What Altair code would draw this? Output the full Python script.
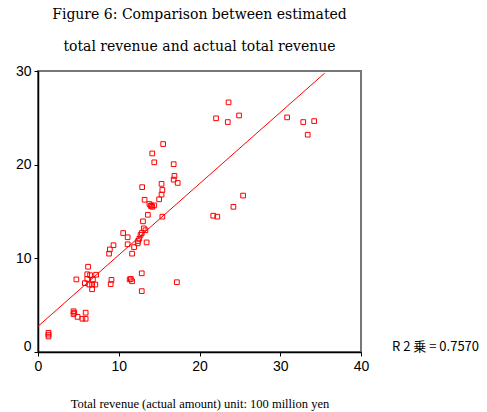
import altair as alt
import pandas as pd

# Actual total revenue (x) vs estimated total revenue (y), unit: 100 million yen
x_vals = [1.3, 1.3, 1.3, 4.4, 4.4, 4.5, 4.9, 5.5, 5.9, 5.9,
          4.75, 6.2, 6.1, 6.45, 7.2, 6.1, 6.8, 5.8, 6.35, 6.7,
          7.1, 6.7, 9.1, 9.0, 11.35, 11.65, 11.5, 12.85, 12.85, 17.2,
          8.8, 8.9, 9.35, 10.55, 11.1, 11.1, 11.65, 11.9, 12.35, 12.4,
          12.55, 12.7, 12.85, 13.1, 13.3, 13.45, 13.0, 13.6, 15.4, 13.2,
          13.8, 13.95, 14.05, 14.4, 15.0, 15.3, 15.4, 15.3, 12.9, 17.3,
          16.8, 16.9, 16.8, 14.4, 14.15, 15.5, 14.15,
          23.6, 22.05, 23.5, 24.9, 30.85, 32.85, 34.2, 33.4, 25.4, 24.2, 21.7, 22.2]
y_vals = [2.05, 1.85, 1.65, 4.35, 4.05, 4.2, 3.75, 3.55, 3.55, 4.2,
          7.75, 9.1, 8.3, 8.2, 8.25, 7.8, 7.75, 7.35, 7.2, 7.2,
          7.2, 6.7, 7.7, 7.25, 7.75, 7.55, 7.8, 8.4, 6.5, 7.45,
          10.5, 10.95, 11.4, 12.7, 12.25, 11.5, 10.5, 11.2, 11.6, 11.85,
          12.1, 12.5, 12.7, 13.2, 13.0, 11.7, 13.95, 14.65, 14.45, 16.25,
          15.8, 15.6, 15.65, 15.65, 16.3, 16.8, 17.3, 17.95, 17.6, 18.05,
          18.4, 18.8, 20.05, 20.25, 21.2, 22.2, 15.5,
          26.65, 24.95, 24.55, 25.25, 25.05, 24.55, 24.65, 23.2, 16.7, 15.5, 14.55, 14.45]

x_ticks = [0, 10, 20, 30, 40]
y_ticks = [0, 10, 20, 30]
title_lines = ["Figure 6: Comparison between estimated",
               "total revenue and actual total revenue"]
x_title = "Total revenue (actual amount) unit: 100 million yen"
r2_label = "R 2 乗 = 0.7570"
fit_extent = [0, 35.5]

df = pd.DataFrame({"x": x_vals, "y": y_vals})

x_enc = alt.X("x:Q",
              scale=alt.Scale(domain=[0, 40], nice=False, zero=True),
              axis=alt.Axis(values=x_ticks, title=x_title, format="d", labelFlush=False))
y_enc = alt.Y("y:Q",
              scale=alt.Scale(domain=[0, 30], nice=False, zero=True),
              axis=alt.Axis(values=y_ticks, title=None, format="d", labelFlush=False,
                            labelOffset={"condition": {"test": "datum.value == 0", "value": -6},
                                         "value": 0}))

points = alt.Chart(df).mark_point(shape="square", filled=False, size=22,
                                  color="#ff0000", strokeWidth=1, opacity=1).encode(x=x_enc, y=y_enc)

fit = alt.Chart(df).transform_regression("x", "y", extent=fit_extent).mark_line(
    color="#ff0000", strokeWidth=1).encode(x="x:Q", y="y:Q")

r2 = alt.Chart(pd.DataFrame({"t": [r2_label]})).mark_text(
    align="left", baseline="middle", font="Liberation Sans Narrow, Noto Sans CJK JP",
    fontSize=13, color="black").encode(text="t:N", x=alt.value(354), y=alt.value(276))

chart = alt.layer(fit, points, r2).properties(
    width=323, height=281,
    autosize=alt.AutoSizeParams(type="none"),
    padding={"left": 38, "top": 71, "right": 126, "bottom": 60},
    title=alt.TitleParams(text=title_lines, font="DejaVu Serif", fontSize=14,
                          fontWeight="normal", lineHeight=32.5, anchor="middle",
                          offset=10, color="black"),
).configure(background="white").configure_view(
    stroke="#777777", strokeWidth=2
).configure_axis(
    domainColor="black", domainWidth=1.5, tickColor="black", tickSize=4,
    labelFont="Liberation Sans", labelFontSize=14, labelColor="black",
    labelPadding=3, grid=False,
    titleFont="Liberation Serif", titleFontSize=12.5, titleFontWeight="normal",
    titleColor="black", titlePadding=24,
)

chart.save("out.html", embed_options={"renderer": "svg", "actions": False})
